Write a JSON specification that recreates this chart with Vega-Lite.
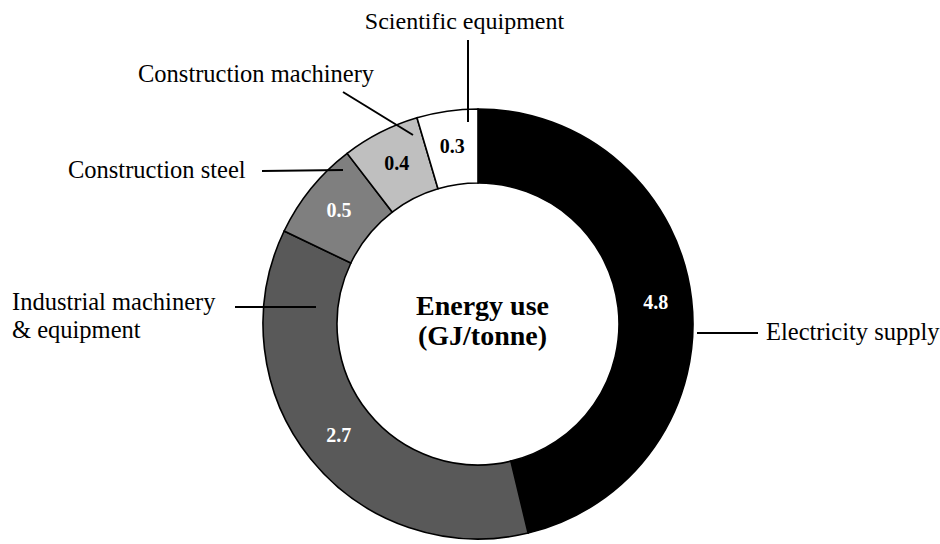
{
  "$schema": "https://vega.github.io/schema/vega-lite/v6.json",
  "width": 940,
  "height": 544,
  "autosize": {"type": "fit", "contains": "padding"},
  "padding": 0,
  "background": "white",
  "config": {"view": {"stroke": null}},
  "datasets": {
    "slices": [
      {"category": "Electricity supply", "value": 4.8, "share": 46.25, "order": 1},
      {"category": "Industrial machinery & equipment", "value": 2.7, "share": 35.86, "order": 2},
      {"category": "Construction steel", "value": 0.5, "share": 7.47, "order": 3},
      {"category": "Construction machinery", "value": 0.4, "share": 5.83, "order": 4},
      {"category": "Scientific equipment", "value": 0.3, "share": 4.58, "order": 5}
    ],
    "leaders": [
      {"category": "Scientific equipment", "u": -0.0465, "v": 1.3209, "u2": -0.0465, "v2": 0.9395},
      {"category": "Construction machinery", "u": -0.6279, "v": 1.0791, "u2": -0.3023, "v2": 0.8791},
      {"category": "Construction steel", "u": -1.0047, "v": 0.7116, "u2": -0.6279, "v2": 0.7163},
      {"category": "Industrial machinery & equipment", "u": -1.1302, "v": 0.0791, "u2": -0.7535, "v2": 0.0791},
      {"category": "Electricity supply", "u": 1.0186, "v": -0.0419, "u2": 1.3023, "v2": -0.0419}
    ],
    "labelsLeft": [
      {"label": "Construction machinery", "u": -1.5814, "v": 1.1256},
      {"label": "Construction steel", "u": -1.907, "v": 0.6791},
      {"label": "Industrial machinery", "u": -2.1674, "v": 0.0651},
      {"label": "& equipment", "u": -2.1674, "v": -0.0651},
      {"label": "Electricity supply", "u": 1.3395, "v": -0.0744}
    ],
    "labelsCenter": [
      {"label": "Scientific equipment", "u": -0.0628, "v": 1.3721}
    ],
    "title": [
      {"label": "Energy use", "u": 0.0209, "v": 0.0419},
      {"label": "(GJ/tonne)", "u": 0.0209, "v": -0.0977}
    ]
  },
  "layer": [
    {
      "data": {"name": "slices"},
      "mark": {"type": "arc", "outerRadius": 215, "innerRadius": 141, "stroke": "#000000", "strokeWidth": 1.6},
      "encoding": {
        "x": {"datum": 0, "type": "quantitative", "scale": {"domain": [-2.22326, 2.14884], "nice": false, "zero": false}, "axis": null},
        "y": {"datum": 0, "type": "quantitative", "scale": {"domain": [-1.02326, 1.50698], "nice": false, "zero": false}, "axis": null},
        "theta": {"field": "share", "type": "quantitative", "stack": true},
        "order": {"field": "order", "type": "quantitative"},
        "color": {
          "field": "category",
          "type": "nominal",
          "scale": {
            "domain": ["Electricity supply", "Industrial machinery & equipment", "Construction steel", "Construction machinery", "Scientific equipment"],
            "range": ["#000000", "#595959", "#7f7f7f", "#bfbfbf", "#ffffff"]
          },
          "legend": null
        }
      }
    },
    {
      "data": {"name": "slices"},
      "mark": {"type": "text", "radius": 179, "font": "Liberation Serif", "fontWeight": "bold", "fontSize": 20, "align": "center", "baseline": "middle"},
      "encoding": {
        "x": {"datum": 0, "type": "quantitative", "scale": {"domain": [-2.22326, 2.14884], "nice": false, "zero": false}, "axis": null},
        "y": {"datum": 0, "type": "quantitative", "scale": {"domain": [-1.02326, 1.50698], "nice": false, "zero": false}, "axis": null},
        "theta": {"field": "share", "type": "quantitative", "stack": true},
        "order": {"field": "order", "type": "quantitative"},
        "text": {"field": "value", "type": "quantitative", "format": ".1f"},
        "color": {"condition": {"test": "datum.value >= 0.5", "value": "#ffffff"}, "value": "#000000"}
      }
    },
    {
      "data": {"name": "leaders"},
      "mark": {"type": "rule", "color": "#000000", "strokeWidth": 2},
      "encoding": {
        "x": {"field": "u", "type": "quantitative", "scale": {"domain": [-2.22326, 2.14884], "nice": false, "zero": false}, "axis": null},
        "y": {"field": "v", "type": "quantitative", "scale": {"domain": [-1.02326, 1.50698], "nice": false, "zero": false}, "axis": null},
        "x2": {"field": "u2"},
        "y2": {"field": "v2"}
      }
    },
    {
      "data": {"name": "labelsLeft"},
      "mark": {"type": "text", "align": "left", "baseline": "alphabetic", "font": "Liberation Serif", "fontSize": 24.5, "color": "#000000"},
      "encoding": {
        "x": {"field": "u", "type": "quantitative", "scale": {"domain": [-2.22326, 2.14884], "nice": false, "zero": false}, "axis": null},
        "y": {"field": "v", "type": "quantitative", "scale": {"domain": [-1.02326, 1.50698], "nice": false, "zero": false}, "axis": null},
        "text": {"field": "label"}
      }
    },
    {
      "data": {"name": "labelsCenter"},
      "mark": {"type": "text", "align": "center", "baseline": "alphabetic", "font": "Liberation Serif", "fontSize": 24, "color": "#000000"},
      "encoding": {
        "x": {"field": "u", "type": "quantitative", "scale": {"domain": [-2.22326, 2.14884], "nice": false, "zero": false}, "axis": null},
        "y": {"field": "v", "type": "quantitative", "scale": {"domain": [-1.02326, 1.50698], "nice": false, "zero": false}, "axis": null},
        "text": {"field": "label"}
      }
    },
    {
      "data": {"name": "title"},
      "mark": {"type": "text", "align": "center", "baseline": "alphabetic", "font": "Liberation Serif", "fontWeight": "bold", "fontSize": 28, "color": "#000000"},
      "encoding": {
        "x": {"field": "u", "type": "quantitative", "scale": {"domain": [-2.22326, 2.14884], "nice": false, "zero": false}, "axis": null},
        "y": {"field": "v", "type": "quantitative", "scale": {"domain": [-1.02326, 1.50698], "nice": false, "zero": false}, "axis": null},
        "text": {"field": "label"}
      }
    }
  ]
}
